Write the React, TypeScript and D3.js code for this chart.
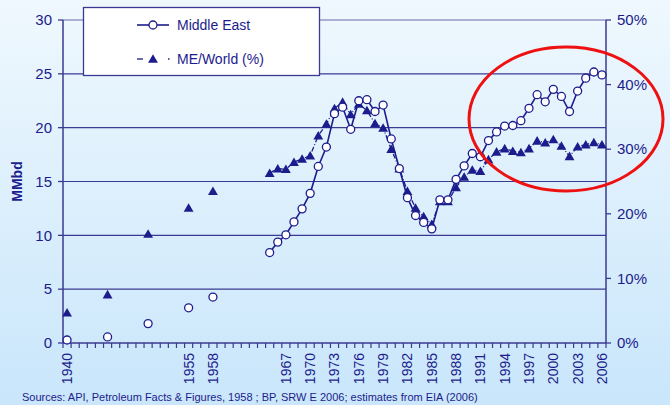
import React from "react";
import * as d3 from "d3";

const years = [1940, 1945, 1950, 1955, 1958,
  1965, 1966, 1967, 1968, 1969, 1970, 1971, 1972, 1973, 1974, 1975, 1976, 1977, 1978, 1979,
  1980, 1981, 1982, 1983, 1984, 1985, 1986, 1987, 1988, 1989, 1990, 1991, 1992, 1993, 1994,
  1995, 1996, 1997, 1998, 1999, 2000, 2001, 2002, 2003, 2004, 2005, 2006];

// Middle East production, MMbd
const middleEast = [0.28, 0.56, 1.8, 3.27, 4.27,
  8.4, 9.37, 10.05, 11.25, 12.46, 13.9, 16.4, 18.2, 21.3, 21.9, 19.85, 22.5, 22.6, 21.5, 22.1,
  18.95, 16.2, 13.5, 11.84, 11.2, 10.6, 13.3, 13.3, 15.2, 16.45, 17.6, 17.3, 18.8, 19.6, 20.15,
  20.2, 20.65, 21.8, 23.06, 22.4, 23.56, 22.9, 21.5, 23.4, 24.6, 25.17, 24.9];

// Middle East share of world production, %
const meWorld = [4.7, 7.5, 16.9, 20.9, 23.5,
  26.3, 27.0, 26.9, 28.0, 28.5, 29.0, 32.1, 33.9, 36.3, 37.3, 35.4, 37.0, 36.0, 34.0, 33.3,
  30.0, 27.0, 23.5, 20.9, 19.6, 18.4, 21.9, 21.9, 24.1, 25.7, 26.8, 26.6, 28.4, 29.6, 30.1,
  29.7, 29.5, 30.1, 31.3, 31.0, 31.5, 30.5, 28.9, 30.4, 30.7, 31.05, 30.7];

const tickYears = [1940, 1955, 1958, 1967, 1970, 1973, 1976, 1979, 1982, 1985, 1988, 1991,
  1994, 1997, 2000, 2003, 2006];
const leftTicks = [0, 5, 10, 15, 20, 25, 30];
const rightTicks = [0, 10, 20, 30, 40, 50];
const legendLabels = ["Middle East", "ME/World (%)"];
const sourceText = "Sources: API, Petroleum Facts & Figures, 1958 ; BP, SRW E 2006; estimates from EIA (2006)";

const W = 670, H = 405;
const L = 63, R = 606, T = 20, B = 343;
const NAVY = "#1c1c8c";
const AXIS = "#3a3a92";
const FONT = "Liberation Sans, Arial, sans-serif";

export default function App() {
  const x = d3.scaleLinear().domain([1939.5, 2006.5]).range([L, R]);
  const yL = d3.scaleLinear().domain([0, 30]).range([B, T]);
  const yR = d3.scaleLinear().domain([0, 50]).range([B, T]);

  const rows = years.map((yr, i) => ({ yr, me: middleEast[i], pct: meWorld[i] }));
  const connected = rows.filter(r => r.yr >= 1965);

  const lineME = d3.line<any>().x(d => x(d.yr)).y(d => yL(d.me));
  const linePct = d3.line<any>().x(d => x(d.yr)).y(d => yR(d.pct));
  const tri = d3.symbol().type(d3.symbolTriangle).size(42);
  const triPath = tri() as string;

  const yearTicks = d3.range(1939.5, 2007, 1);

  return (
    <svg width={W} height={H} style={{ position: "absolute", left: 0, top: 0 }} fontFamily={FONT}>
      <defs>
        <linearGradient id="bg" x1="0" y1="0" x2="0" y2="1">
          <stop offset="0" stopColor="#eff8fe" />
          <stop offset="1" stopColor="#c9e6fb" />
        </linearGradient>
      </defs>
      <rect x={0} y={0} width={W} height={H} fill="url(#bg)" />

      {/* gridlines */}
      {leftTicks.filter(t => t > 0).map(t => (
        <line key={"g" + t} x1={L} x2={R} y1={yL(t)} y2={yL(t)} stroke={t === 30 ? "#6a6aa8" : AXIS} strokeWidth={1.2} />
      ))}

      {/* left axis */}
      <line x1={L} x2={L} y1={T} y2={B} stroke={AXIS} strokeWidth={1.5} />
      {leftTicks.map(t => (
        <g key={"l" + t}>
          <line x1={L - 5} x2={L} y1={yL(t)} y2={yL(t)} stroke={AXIS} strokeWidth={1.3} />
          <text x={52} y={yL(t)} dy="0.35em" textAnchor="end" fontSize={15} fill={NAVY}>{t}</text>
        </g>
      ))}
      <text transform={`translate(22,${(T + B) / 2}) rotate(-90)`} textAnchor="middle" fontSize={14} fontWeight="bold" fill={NAVY}>MMbd</text>

      {/* right axis */}
      <line x1={R} x2={R} y1={T} y2={B} stroke={AXIS} strokeWidth={1.5} />
      {rightTicks.map(t => (
        <g key={"r" + t}>
          <line x1={R} x2={R + 5} y1={yR(t)} y2={yR(t)} stroke={AXIS} strokeWidth={1.3} />
          <text x={617} y={yR(t)} dy="0.35em" textAnchor="start" fontSize={15} fill={NAVY}>{t + "%"}</text>
        </g>
      ))}

      {/* bottom axis */}
      <line x1={L} x2={R} y1={B} y2={B} stroke={AXIS} strokeWidth={1.5} />
      {yearTicks.map(t => (
        <line key={"t" + t} x1={x(t)} x2={x(t)} y1={B} y2={B + 5} stroke={AXIS} strokeWidth={1.2} />
      ))}
      {tickYears.map(yr => (
        <text key={"x" + yr} transform={`translate(${x(yr)},${B + 10}) rotate(-90)`} textAnchor="end" dy="0.35em" fontSize={14} fill={NAVY}>{yr}</text>
      ))}

      {/* series lines */}
      <path d={linePct(connected) || ""} fill="none" stroke={NAVY} strokeWidth={1.3} strokeDasharray="5,2,1,2" />
      <path d={lineME(connected) || ""} fill="none" stroke={NAVY} strokeWidth={1.6} />

      {/* triangles */}
      {rows.map(r => (
        <path key={"tr" + r.yr} d={triPath} transform={`translate(${x(r.yr)},${yR(r.pct) + 1})`} fill={NAVY} />
      ))}
      {/* circles */}
      {rows.map(r => (
        <circle key={"c" + r.yr} cx={x(r.yr)} cy={yL(r.me)} r={4} fill="#ffffff" stroke={NAVY} strokeWidth={1.3} />
      ))}

      {/* legend */}
      <rect x={83.5} y={7.5} width={236} height={68} fill="#ffffff" stroke={AXIS} strokeWidth={1.3} />
      <line x1={137} x2={169} y1={25} y2={25} stroke={NAVY} strokeWidth={1.6} />
      <circle cx={153} cy={25} r={4} fill="#ffffff" stroke={NAVY} strokeWidth={1.3} />
      <text x={177} y={25} dy="0.35em" fontSize={14} fill={NAVY}>{legendLabels[0]}</text>
      <line x1={137} x2={143} y1={59} y2={59} stroke={NAVY} strokeWidth={1.3} />
      <line x1={168} x2={169.5} y1={59} y2={59} stroke={NAVY} strokeWidth={1.3} />
      <path d={triPath} transform={`translate(153,60)`} fill={NAVY} />
      <text x={177} y={59} dy="0.35em" fontSize={14} fill={NAVY}>{legendLabels[1]}</text>

      {/* red highlight ellipse */}
      <ellipse cx={566} cy={119} rx={97} ry={72} fill="none" stroke="#ee1111" strokeWidth={3} />

      {/* source */}
      <text x={22} y={397} dy="0.35em" fontSize={11} fill={NAVY}>{sourceText}</text>
    </svg>
  );
}
